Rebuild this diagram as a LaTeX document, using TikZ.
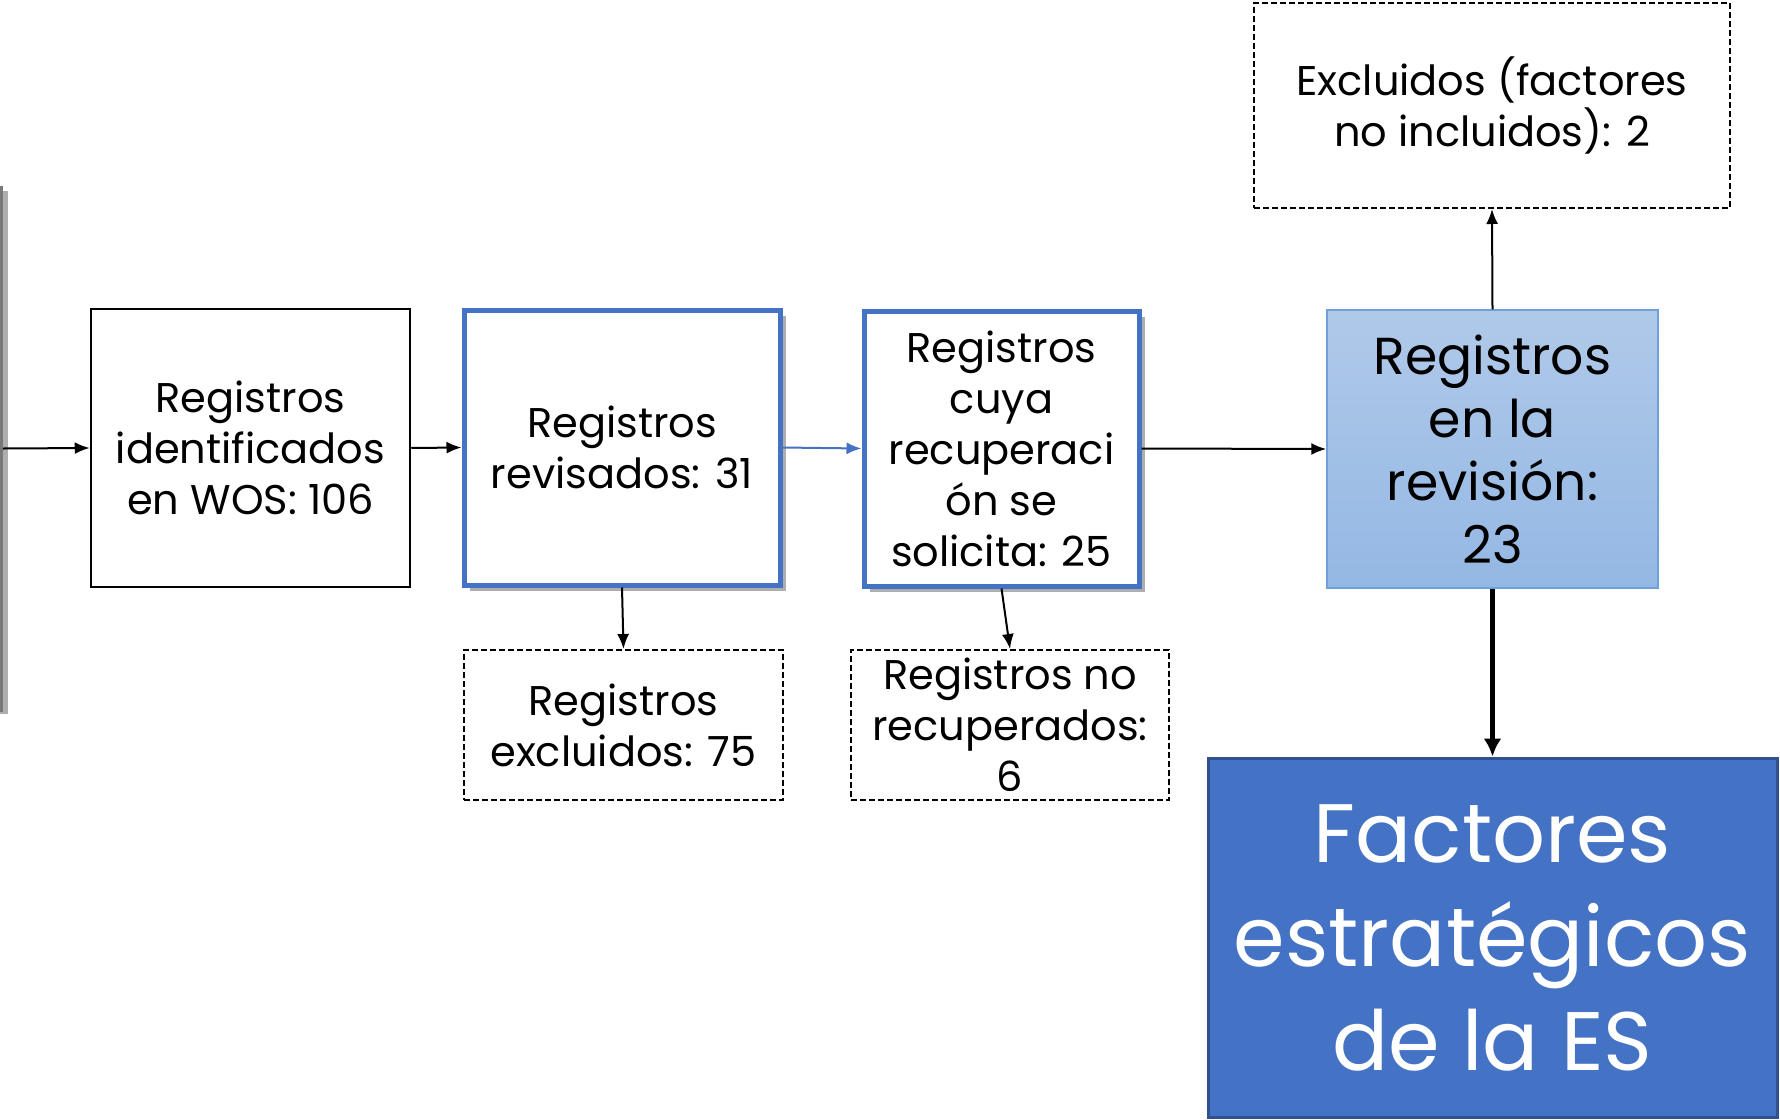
\documentclass[tikz,border=0pt]{standalone}
\usepackage{fontspec}
\setmainfont{Poppins}
\usetikzlibrary{arrows.meta,shadows}
\definecolor{accent}{HTML}{4472C4}
\definecolor{accentdark}{HTML}{2F528F}
\definecolor{lighttop}{RGB}{176,201,233}
\definecolor{lightbot}{RGB}{148,184,228}
\definecolor{lightedge}{HTML}{6FA0DC}
\definecolor{edgegray}{RGB}{120,120,120}
\tikzset{
  txt/.style={font=\fontsize{41.5}{51}\selectfont, align=center, text=black},
  plainbox/.style={draw=black, line width=2.5pt, fill=white, inner sep=0pt, txt},
  bluebox/.style={draw=accent, line width=5pt, fill=white, inner sep=0pt, txt,
    drop shadow={shadow xshift=6pt, shadow yshift=-6pt, opacity=0.45, fill=black!70}},
  dashbox/.style={draw=black, line width=2pt, dash pattern=on 6pt off 3pt, fill=white, inner sep=0pt, txt},
  resultbox/.style={draw=lightedge, line width=1.5pt, top color=lighttop, bottom color=lightbot,
    inner sep=0pt, align=center, font=\fontsize{52}{63}\selectfont},
  finalbox/.style={draw=accentdark, line width=3pt, fill=accent, inner sep=0pt, align=center,
    text=white, font=\fontsize{83}{104}\selectfont},
  srcbox/.style={draw=edgegray, line width=3pt, fill=white,
    drop shadow={shadow xshift=6pt, shadow yshift=-4pt, opacity=0.45, fill=black!70}},
  arr/.style={draw=black, line width=2pt, -{Latex[length=15pt,width=12pt]}},
  bluearr/.style={draw=accent, line width=2pt, -{Latex[length=15pt,width=12pt]}},
  thickarr/.style={draw=black, line width=5pt, -{Latex[length=18pt,width=18pt]}},
}
\begin{document}
\begin{tikzpicture}[x=1pt,y=-1pt]
\useasboundingbox (0,0) rectangle (1780,1119);
% partial box at the left edge
\node[srcbox, minimum width=200pt, minimum height=523pt] (src) at (-98.5,448.5) {};
% main row
\node[plainbox, minimum width=319pt, minimum height=278pt] (b1) at (250.5,448)
  {Registros\\identificados\\en WOS: 106};
\node[bluebox, minimum width=316pt, minimum height=275pt] (b2) at (622,447.5)
  {Registros\\revisados: 31};
\node[bluebox, minimum width=275pt, minimum height=275pt] (b3) at (1001.5,448.5)
  {Registros\\cuya\\recuperaci\\ón se\\solicita: 25};
\node[resultbox, minimum width=331pt, minimum height=278pt] (b4) at (1492.5,449)
  {Registros\\en la\\revisión:\\23};
% side boxes
\node[dashbox, minimum width=319pt, minimum height=150pt] (ex) at (623.5,725)
  {Registros\\excluidos: 75};
\node[dashbox, minimum width=318pt, minimum height=150pt] (nr) at (1010,725)
  {Registros no\\recuperados:\\6};
\node[dashbox, minimum width=476pt, minimum height=205pt] (top) at (1492,105.5)
  {Excluidos (factores\\no incluidos): 2};
\node[finalbox, minimum width=569pt, minimum height=359pt] (fin) at (1492.5,937.5)
  {Factores\\estratégicos\\de la ES};
% connectors
\draw[arr] (src.east) -- (b1.west);
\draw[arr] (b1.east) -- (b2.west);
\draw[bluearr] (b2.east) -- (b3.west);
\draw[arr] (b3.east) -- (b4.west);
\draw[arr] (b2.south) -- (ex.north);
\draw[arr] (b3.south) -- (nr.north);
\draw[arr] (b4.north) -- (top.south);
\draw[thickarr] (b4.south) -- (fin.north);
\end{tikzpicture}
\end{document}
